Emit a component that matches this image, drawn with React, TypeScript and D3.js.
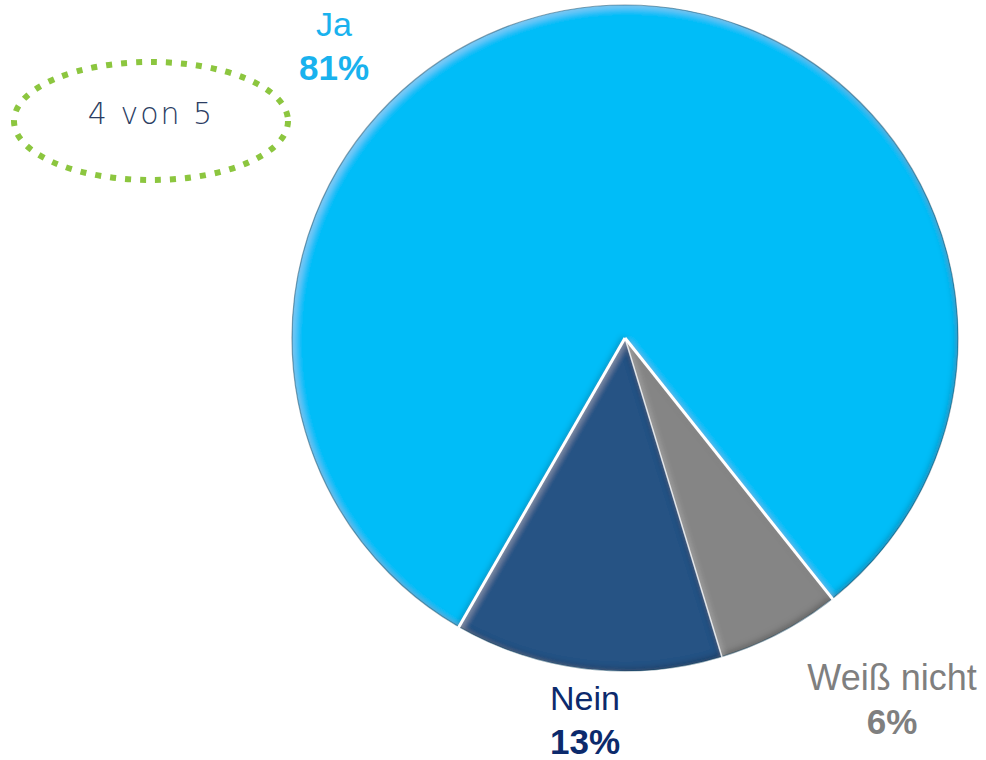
import React from 'react'
import * as d3 from 'd3'

// data
const categories = ['Ja', 'Nein', 'Weiß nicht']
const values = [81, 13, 6]
const percentLabels = ['81%', '13%', '6%']
const sliceColors = ['#05bdf8', '#265284', '#858585']
const labelColors = ['#19b2ee', '#0c2a6c', '#7f7f7f']
// clockwise drawing order, starting at the Weiß nicht slice
const drawOrder = [2, 1, 0]
const calloutText = '4 von 5'

const W = 986
const H = 760
const cx = 625
const cy = 338
const radius = 333
const startDeg = 141.5

// label anchor offsets from the pie center (layout only)
const labelOffsets = [
  { dx: -291, dy: -302, size: 34 },
  { dx: -40, dy: 372, size: 34 },
  { dx: 267, dy: 352, size: 36 },
]

type Slice = d3.PieArcDatum<number>

export default function App() {
  const pie = d3.pie<number>()
    .sort(null)
    .value(i => values[i])
    .startAngle(startDeg * Math.PI / 180)
    .endAngle(startDeg * Math.PI / 180 + 2 * Math.PI)
  const arcs: Slice[] = pie(drawOrder)
  const arc = d3.arc<Slice>().innerRadius(0).outerRadius(radius)

  // radial separators at slice boundaries
  const sepLine = (ang: number) => {
    const x = Math.sin(ang) * (radius + 1)
    const y = -Math.cos(ang) * (radius + 1)
    return `M0,0L${x},${y}`
  }

  return (
    <div style={{ position: 'absolute', left: 0, top: 0 }}>
      <svg width={W} height={H} style={{ display: 'block', background: '#fff' }}>
        <defs>
          <filter id='bevel' x='-10%' y='-10%' width='120%' height='120%'>
            <feGaussianBlur in='SourceAlpha' stdDeviation='3' result='blur' />
            <feOffset in='blur' dx='-2.5' dy='-2.5' result='blurUp' />
            <feOffset in='blur' dx='2.5' dy='2.5' result='blurDown' />
            <feComposite in='SourceAlpha' in2='blurUp' operator='arithmetic' k2='1' k3='-1' result='shadowEdge' />
            <feComposite in='SourceAlpha' in2='blurDown' operator='arithmetic' k2='1' k3='-1' result='lightEdge' />
            <feFlood floodColor='#000' floodOpacity='0.5' />
            <feComposite in2='shadowEdge' operator='in' result='shadow' />
            <feFlood floodColor='#fff' floodOpacity='0.22' />
            <feComposite in2='lightEdge' operator='in' result='light' />
            <feMerge>
              <feMergeNode in='SourceGraphic' />
              <feMergeNode in='shadow' />
              <feMergeNode in='light' />
            </feMerge>
          </filter>
        </defs>

        <g transform={`translate(${cx},${cy})`}>
          {arcs.map(a => (
            <path
              key={categories[a.data]}
              d={arc(a) || ''}
              fill={sliceColors[a.data]}
              filter='url(#bevel)'
            />
          ))}
          {/* thin dark rim along the outer edge */}
          <circle r={radius} fill='none' stroke='#0b3a55' strokeOpacity={0.45} strokeWidth={1.2} />
          {arcs.map((a, i) => {
            const prev = arcs[(i + arcs.length - 1) % arcs.length].data
            const touchesJa = a.data === 0 || prev === 0
            return (
              <path
                key={`sep-${i}`}
                d={sepLine(a.startAngle)}
                stroke='#fff'
                strokeWidth={touchesJa ? 3 : 1.5}
                strokeOpacity={touchesJa ? 1 : 0.8}
                fill='none'
              />
            )
          })}
        </g>

        {categories.map((c, i) => {
          const x = cx + labelOffsets[i].dx
          const y = cy + labelOffsets[i].dy
          return (
            <g key={`lab-${c}`} fontFamily="'Liberation Sans', Arial, sans-serif" textAnchor='middle' fill={labelColors[i]}>
              <text x={x} y={y} fontSize={labelOffsets[i].size}>{c}</text>
              <text x={x} y={y + 44} fontSize={35} fontWeight='bold'>{percentLabels[i]}</text>
            </g>
          )
        })}

        <ellipse
          cx={151}
          cy={121}
          rx={137}
          ry={59}
          fill='none'
          stroke='#8cc63f'
          strokeWidth={6}
          strokeDasharray='6 9'
        />
        <text
          x={151}
          y={124}
          textAnchor='middle'
          fontFamily="'DejaVu Sans', sans-serif"
          fontWeight={200}
          fontSize={30}
          letterSpacing={2}
          fill='#2b3d63'
        >
          {calloutText}
        </text>
      </svg>
    </div>
  )
}
